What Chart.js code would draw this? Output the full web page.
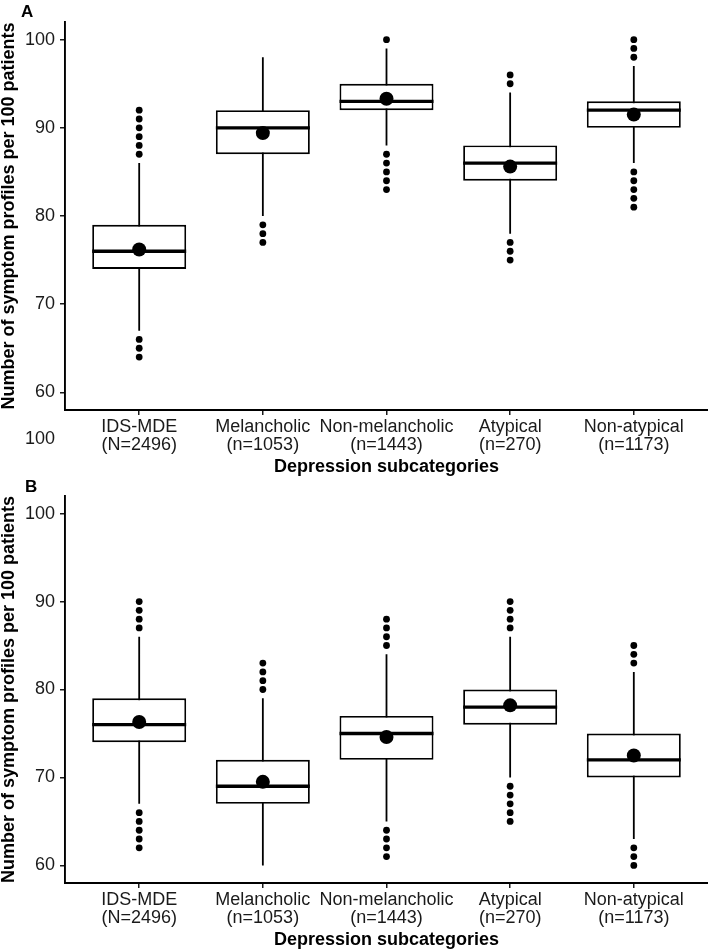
<!DOCTYPE html>
<html>
<head>
<meta charset="utf-8">
<script src="https://cdn.jsdelivr.net/npm/chart.js@4.4.1/dist/chart.umd.min.js"></script>
<style>
body{margin:0;background:#fff;width:708px;height:952px;position:relative;overflow:hidden;font-family:"Liberation Sans",Arial,sans-serif}
.panel{position:absolute;left:0;width:708px;height:476px}
.tag{position:absolute;font-weight:bold;font-size:17px;line-height:17px;color:#000}
</style>
</head>
<body>
<div class="panel" style="top:0"><canvas id="chartA" width="708" height="476"></canvas></div>
<div class="panel" style="top:476px"><canvas id="chartB" width="708" height="476"></canvas></div>
<div class="tag" style="left:21px;top:3px">A</div>
<div class="tag" style="left:25px;top:478px">B</div>
<div style="position:absolute;left:15px;width:40px;top:429px;text-align:right;font-size:18px;line-height:18px;color:#1a1a1a">100</div>
<script>
const categories = ["IDS-MDE", "Melancholic", "Non-melancholic", "Atypical", "Non-atypical"];
const groupSizes = ["(N=2496)", "(n=1053)", "(n=1443)", "(n=270)", "(n=1173)"];
const yTicks = [60, 70, 80, 90, 100];

// panel A
const lowA = [67, 80, 88, 78, 86];
const q1A = [74, 87, 92, 84, 90];
const medA = [76, 90, 93, 86, 92];
const q3A = [79, 92, 95, 88, 93];
const highA = [86, 98, 99, 94, 97];
const meanA = [76.2, 89.4, 93.3, 85.6, 91.5];
const outliersA = [
    [87, 88, 89, 90, 91, 92, 64, 65, 66],
    [77, 78, 79],
    [100, 83, 84, 85, 86, 87],
    [95, 96, 75, 76, 77],
    [98, 99, 100, 81, 82, 83, 84, 85]
];

// panel B
const lowB = [67, 60, 65, 70, 63];
const q1B = [74, 67, 72, 76, 70];
const medB = [76, 69, 75, 78, 72];
const q3B = [79, 72, 77, 80, 75];
const highB = [86, 79, 84, 86, 82];
const meanB = [76.3, 69.5, 74.6, 78.2, 72.5];
const outliersB = [
    [87, 88, 89, 90, 62, 63, 64, 65, 66],
    [80, 81, 82, 83],
    [85, 86, 87, 88, 61, 62, 63, 64],
    [87, 88, 89, 90, 65, 66, 67, 68, 69],
    [83, 84, 85, 60, 61, 62]
];

const FONT = "'Liberation Sans', Arial, sans-serif";
const MEDIAN_HALF = 0.19; // half thickness of the median bar, in axis units

function drawPanel(id, s, topPad, xHeight, xTitlePad) {
    let whiskers = [];
    s.low.forEach((v, i) => {
        whiskers.push({x: i + 1, y: v}, {x: i + 1, y: s.high[i]}, {x: i + 1, y: null});
    });
    let outs = [];
    s.outliers.forEach((arr, i) => arr.forEach(v => outs.push({x: i + 1, y: v})));

    new Chart(document.getElementById(id), {
        type: "bar",
        data: {
            datasets: [
                {
                    type: "line",
                    data: whiskers,
                    borderColor: "#000",
                    borderWidth: 1.8,
                    pointRadius: 0,
                    spanGaps: false,
                    order: 4
                },
                {
                    // box from q1 to q3
                    data: s.q1.map((v, i) => ({x: i + 1, y: [v, s.q3[i]]})),
                    grouped: false,
                    categoryPercentage: 0.76,
                    barPercentage: 1,
                    backgroundColor: "#fff",
                    borderColor: "#000",
                    borderWidth: 1.9,
                    borderSkipped: false,
                    order: 3
                },
                {
                    // thick median line
                    data: s.med.map((v, i) => ({x: i + 1, y: [v - MEDIAN_HALF, v + MEDIAN_HALF]})),
                    grouped: false,
                    categoryPercentage: 0.76,
                    barPercentage: 1,
                    backgroundColor: "#000",
                    borderWidth: 0,
                    order: 2
                },
                {
                    type: "scatter",
                    data: outs,
                    pointRadius: 3.4,
                    backgroundColor: "#000",
                    borderWidth: 0,
                    order: 1
                },
                {
                    type: "scatter",
                    data: s.mean.map((v, i) => ({x: i + 1, y: v})),
                    pointRadius: 7,
                    backgroundColor: "#000",
                    borderWidth: 0,
                    order: 0
                }
            ]
        },
        options: {
            responsive: false,
            animation: false,
            layout: {autoPadding: false, padding: {top: topPad, right: 0, left: 0, bottom: 0}},
            plugins: {legend: {display: false}, tooltip: {enabled: false}},
            scales: {
                x: {
                    type: "linear",
                    min: 0.4,
                    max: 5.6,
                    offset: false,
                    afterBuildTicks: sc => { sc.ticks = categories.map((c, i) => ({value: i + 1})); },
                    afterFit: sc => { sc.height = xHeight; },
                    grid: {offset: false, drawOnChartArea: false, drawTicks: true, tickLength: 5, color: "#1a1a1a", lineWidth: 1.5},
                    border: {display: true, color: "#000", width: 1.9},
                    ticks: {
                        autoSkip: false,
                        maxRotation: 0,
                        padding: 3,
                        color: "#1a1a1a",
                        font: {family: FONT, size: 18, lineHeight: 1.0},
                        callback: v => [categories[v - 1], groupSizes[v - 1]]
                    },
                    title: {
                        display: true,
                        text: "Depression subcategories",
                        color: "#000",
                        font: {family: FONT, size: 18, weight: "bold", lineHeight: 1.0},
                        padding: {top: 0, bottom: xTitlePad}
                    }
                },
                y: {
                    min: 58,
                    max: 102,
                    afterBuildTicks: sc => { sc.ticks = yTicks.map(v => ({value: v})); },
                    afterFit: sc => { sc.width = 65; },
                    grid: {drawOnChartArea: false, drawTicks: true, tickLength: 5, color: "#1a1a1a", lineWidth: 1.5},
                    border: {display: true, color: "#000", width: 1.9},
                    ticks: {
                        padding: 5,
                        color: "#1a1a1a",
                        font: {family: FONT, size: 18}
                    },
                    title: {
                        display: true,
                        text: "Number of symptom profiles per 100 patients",
                        color: "#000",
                        font: {family: FONT, size: 18, weight: "bold", lineHeight: 1.0},
                        padding: {top: 0, bottom: 0}
                    }
                }
            }
        }
    });
}

drawPanel("chartA", {low: lowA, q1: q1A, med: medA, q3: q3A, high: highA, mean: meanA, outliers: outliersA}, 22, 66, 0);
drawPanel("chartB", {low: lowB, q1: q1B, med: medB, q3: q3B, high: highB, mean: meanB, outliers: outliersB}, 20, 69, 3);
</script>
</body>
</html>
